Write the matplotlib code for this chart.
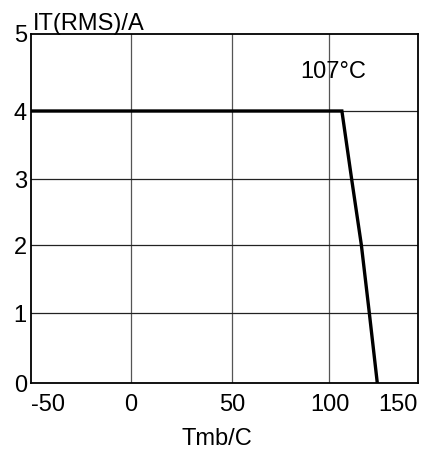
import numpy as np
import matplotlib.pyplot as plt

plt.rcParams['font.family'] = ['Liberation Sans', 'DejaVu Sans']

# derating curve: mounting base temperature vs RMS on-state current
tmb = [-50, 107, 112.5, 118, 122.5, 127]
it_rms = [4, 4, 3, 2, 1, 0]

x_ticks = [-50, 0, 50, 100, 150]
y_ticks = [0, 1, 2, 3, 4, 5]

# the printed grid is not evenly spaced, so follow it with a piecewise scale
x_data = [-100, -50, 0, 50, 100, 150, 200]
x_pix = [-69, 31, 131, 232, 329.5, 418, 507]
y_data = [-1, 0, 1, 2, 3, 4, 5, 6]
y_pix = [-70, 0, 70, 138, 204, 272, 349, 426]


def fx(v):
    return np.interp(v, x_data, x_pix)


def fx_inv(v):
    return np.interp(v, x_pix, x_data)


def fy(v):
    return np.interp(v, y_data, y_pix)


def fy_inv(v):
    return np.interp(v, y_pix, y_data)


fig = plt.figure(figsize=(4.27, 4.53), dpi=100)
ax = fig.add_axes([31 / 427, 1 - 383 / 453, 387 / 427, 349 / 453])
ax.set_xscale('function', functions=(fx, fx_inv))
ax.set_yscale('function', functions=(fy, fy_inv))

ax.plot(tmb, it_rms, color='black', linewidth=2.4, solid_joinstyle='miter')

ax.set_xlim(-50, 150)
ax.set_ylim(0, 5)
ax.set_xticks(x_ticks)
ax.set_yticks(y_ticks)
ax.set_xticklabels([str(t) for t in x_ticks])
ax.set_yticklabels([str(t) for t in y_ticks])
ax.tick_params(length=0, labelsize=17, pad=3)
ax.tick_params(axis='x', pad=8)

# end labels sit inside the frame, as printed
xlabels = ax.get_xticklabels()
xlabels[0].set_horizontalalignment('left')
xlabels[0].set_x(-54)
xlabels[-1].set_horizontalalignment('right')

for v in x_ticks[1:-1]:
    ax.axvline(v, color='#555555', linewidth=0.9, zorder=0)
for v in y_ticks[1:-1]:
    ax.axhline(v, color='#222222', linewidth=0.9, zorder=0)

for s in ax.spines.values():
    s.set_linewidth(1.3)

ax.text(102, 4.5, '107°C', fontsize=17, ha='center', va='center')
fig.text(33 / 427, 1 - 30 / 453, 'IT(RMS)/A', fontsize=17, ha='left', va='baseline')
fig.text(217 / 427, 1 - 439 / 453, 'Tmb/C', fontsize=17, ha='center', va='center')

fig.savefig('out.png', dpi=100)
